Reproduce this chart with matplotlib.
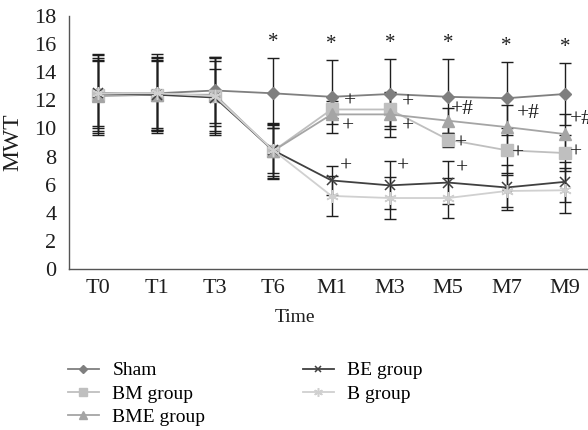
import matplotlib
matplotlib.use("Agg")
import matplotlib.pyplot as plt
import numpy as np

plt.rcParams['font.family'] = ['Liberation Serif', 'DejaVu Serif']

times = ["T0", "T1", "T3", "T6", "M1", "M3", "M5", "M7", "M9"]
sham = [12.5, 12.5, 12.7, 12.5, 12.25, 12.45, 12.25, 12.15, 12.45]
bm = [12.4, 12.4, 12.3, 8.4, 11.35, 11.35, 9.2, 8.45, 8.25]
bme = [12.3, 12.4, 12.4, 8.4, 11.0, 11.0, 10.55, 10.1, 9.6]
be = [12.5, 12.4, 12.2, 8.45, 6.3, 5.95, 6.15, 5.8, 6.2]
bgrp = [12.5, 12.5, 12.3, 8.45, 5.2, 5.05, 5.05, 5.55, 5.6]

sham_sd = [2.7, 2.6, 2.3, 2.5, 2.6, 2.5, 2.7, 2.6, 2.2]
bm_sd = [2.9, 2.6, 2.5, 2.0, 0.6, 1.2, 0.5, 1.6, 1.3]
bme_sd = [2.6, 2.5, 2.7, 1.9, 0.7, 1.6, 0.9, 1.6, 1.4]
be_sd = [2.3, 2.4, 2.0, 1.6, 1.0, 1.7, 1.5, 1.6, 1.4]
b_sd = [2.5, 2.8, 2.8, 1.8, 1.4, 1.5, 1.4, 1.15, 1.6]

labels = ["Sham", "BM group", "BME group", "BE group", "B group"]

# significance annotations: (time index, y value, text, x offset)
stars_idx = [3, 4, 5, 6, 7, 8]
marks = [
    (4, 11.9, "+", 0.22), (4, 10.12, "+", 0.17), (4, 7.23, "+", 0.15),
    (5, 11.83, "+", 0.20), (5, 10.12, "+", 0.20), (5, 7.23, "+", 0.12),
    (6, 11.36, "+#", 0.05), (6, 8.89, "+", 0.12), (6, 7.11, "+", 0.13),
    (7, 11.07, "+#", 0.17), (7, 8.16, "+", 0.10),
    (8, 10.65, "+#", 0.08), (8, 8.23, "+", 0.08),
]

fig = plt.figure(figsize=(5.88, 4.30), dpi=100)
ax = fig.add_axes([69/588, (430-269)/430, 525/588, (269-16)/430])

x = np.arange(len(times))
series = [
    (sham, sham_sd, dict(color="#7f7f7f", marker="D", ms=6, mfc="#7f7f7f", mec="#7f7f7f")),
    (bm, bm_sd, dict(color="#bfbfbf", marker="s", ms=8, mfc="#bfbfbf", mec="#bfbfbf")),
    (bme, bme_sd, dict(color="#a5a5a5", marker="^", ms=8, mfc="#a5a5a5", mec="#a5a5a5")),
    (be, be_sd, dict(color="#404040", marker="x", ms=7, mew=1.1)),
    (bgrp, b_sd, dict(color="#d0d0d0", marker=(6, 2, 0), ms=9, mew=1.1, mec="#d0d0d0")),
]

for (vals, sd, st), lab in zip(series, labels):
    ax.errorbar(x, vals, yerr=sd, fmt="none", ecolor="#1e1e1e", elinewidth=1.0,
                capsize=4, capthick=1.0, zorder=2)
for (vals, sd, st), lab in zip(series, labels):
    ax.plot(x, vals, lw=1.3, zorder=3, label=lab, **st)

for i in stars_idx:
    ax.text(x[i], sham[i] + sham_sd[i] + 1.1, "*", ha="center", va="center",
            fontsize=15, color="#1e1e1e")
for i, yv, t, dx in marks:
    ax.text(x[i] + dx, yv, t, ha="left", va="center", fontsize=15.5, color="#1e1e1e")

ax.set_xlim(-0.5, len(times) - 0.5)
ax.set_ylim(0, 18)
ax.set_yticks(range(0, 19, 2))
ax.set_xticks(x)
ax.set_xticklabels(times)
ax.tick_params(axis="both", length=0, labelsize=16, colors="#1e1e1e")
ax.tick_params(axis="x", pad=7)
ax.tick_params(axis="y", pad=9)
for s in ["top", "right"]:
    ax.spines[s].set_visible(False)
for s in ["left", "bottom"]:
    ax.spines[s].set_color("#555555")
    ax.spines[s].set_linewidth(1.0)

ax.set_ylabel("MWT", fontsize=17, color="#1e1e1e", labelpad=8)
fig.text(295/588, 1 - 318/430, "Time", ha="center", va="center", fontsize=14, color="#1e1e1e")

legend_handles = []
for (vals, sd, st), lab in zip(series, labels):
    st2 = dict(st)
    st2["ms"] = st2["ms"] * 0.7
    h, = ax.plot([], [], lw=1.3, label=lab, **st2)
    legend_handles.append(h)

fig.legend(handles=legend_handles, loc="upper left", bbox_to_anchor=(60/588, 1 - 354/430),
           ncol=2, frameon=False, fontsize=14, handlelength=1.6, columnspacing=5.0,
           labelspacing=0.3, handletextpad=0.7, borderaxespad=0)

fig.savefig("out.png", dpi=100)
